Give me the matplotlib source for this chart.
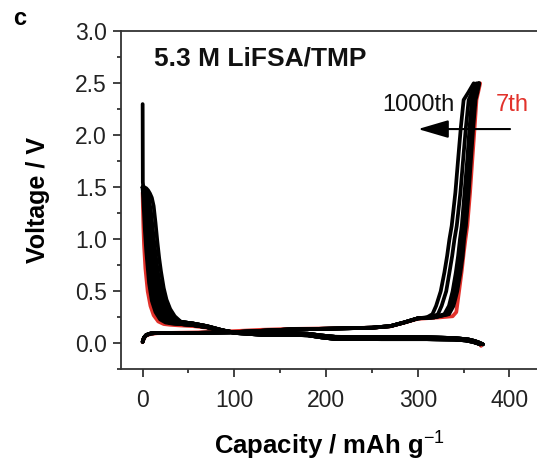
import matplotlib
matplotlib.use('Agg')
import matplotlib.pyplot as plt
from matplotlib.ticker import MultipleLocator

plt.rcParams['font.family'] = ['Liberation Sans', 'DejaVu Sans']
plt.rcParams['mathtext.fontset'] = 'custom'
plt.rcParams['mathtext.rm'] = 'Liberation Sans'
plt.rcParams['mathtext.bf'] = 'Liberation Sans:bold'

# ---- data (capacity in mAh/g, voltage in V) ----
# 7th cycle (red)
d7_x = [0, 0.3, 0.8, 1.5, 3, 5.5, 8.5, 12, 17, 23, 30, 40, 55, 70, 85, 100, 130, 160,
        180, 195, 210, 260, 310, 340, 355, 362, 367, 369]
d7_v = [1.45, 1.30, 1.12, 0.95, 0.72, 0.50, 0.36, 0.27, 0.21, 0.185, 0.178, 0.172, 0.165,
        0.15, 0.125, 0.105, 0.10, 0.097, 0.088, 0.068, 0.055, 0.052, 0.05, 0.044, 0.033,
        0.018, 0.0, -0.025]
c7_x = [0, 0.5, 1.5, 4, 9, 16, 30, 60, 95, 130, 160, 200, 250, 270, 285, 300, 325, 338,
        342, 345, 348, 350, 352, 354, 357, 359.5, 362, 364, 366, 368]
c7_v = [0.01, 0.025, 0.05, 0.075, 0.09, 0.097, 0.10, 0.105, 0.115, 0.13, 0.138, 0.143,
        0.15, 0.163, 0.198, 0.235, 0.25, 0.26, 0.30, 0.50, 0.70, 0.86, 1.0, 1.13, 1.45,
        1.77, 2.08, 2.34, 2.42, 2.5]

# black cycles: discharge heads (steep part at low capacity)
d100_x = [0, 0.5, 1.5, 2.5, 4, 7, 10, 14, 19, 25, 32]
d100_v = [1.49, 1.42, 1.25, 1.08, 0.88, 0.58, 0.41, 0.30, 0.23, 0.20, 0.19]
d200_x = [0, 1, 2, 3.5, 5.5, 8.5, 12, 16, 21, 27, 34]
d200_v = [1.50, 1.44, 1.32, 1.13, 0.90, 0.60, 0.42, 0.31, 0.24, 0.205, 0.19]
d300_x = [0, 1, 2.5, 4, 6, 8.5, 11, 14.5, 18.5, 23, 29, 36]
d300_v = [1.50, 1.46, 1.36, 1.19, 0.96, 0.70, 0.51, 0.37, 0.28, 0.23, 0.20, 0.19]
d400_x = [0, 1, 3, 4.5, 6.5, 9, 12, 15.5, 19.5, 24, 30, 37]
d400_v = [1.50, 1.47, 1.40, 1.25, 1.02, 0.78, 0.56, 0.41, 0.31, 0.25, 0.21, 0.19]
d500_x = [0, 1, 3, 5, 7, 9.5, 12.5, 15, 18.5, 22.5, 27, 33, 39]
d500_v = [1.50, 1.48, 1.43, 1.31, 1.12, 0.88, 0.65, 0.50, 0.38, 0.30, 0.25, 0.22, 0.20]
d600_x = [0, 1, 3, 5, 7, 9, 11, 14, 17.5, 21.5, 26, 32, 38]
d600_v = [1.50, 1.49, 1.45, 1.36, 1.20, 1.00, 0.82, 0.61, 0.45, 0.34, 0.27, 0.23, 0.21]
d700_x = [0, 1, 3, 5, 7, 9, 11, 13, 15.5, 18, 21.5, 26, 32, 39]
d700_v = [1.50, 1.49, 1.46, 1.39, 1.26, 1.09, 0.91, 0.74, 0.58, 0.50, 0.39, 0.30, 0.25, 0.21]
d800_x = [0, 1, 3, 5, 7, 9, 11, 13, 16, 19.5, 23.5, 28, 34, 40]
d800_v = [1.50, 1.49, 1.47, 1.42, 1.32, 1.17, 1.00, 0.84, 0.64, 0.48, 0.37, 0.29, 0.24, 0.21]
d900_x = [0, 1, 3, 5, 7, 9, 11, 13, 15, 17.5, 21.5, 25, 29, 34, 40]
d900_v = [1.50, 1.50, 1.48, 1.45, 1.38, 1.27, 1.10, 0.94, 0.79, 0.63, 0.48, 0.38, 0.31,
          0.25, 0.215]
d1000_x = [0, 0.2, 0.6, 2, 4, 6, 8, 10, 12, 14, 16, 18, 20, 23, 26, 30, 35, 40]
d1000_v = [2.30, 1.55, 1.51, 1.50, 1.49, 1.47, 1.44, 1.40, 1.32, 1.16, 0.98, 0.82, 0.69,
           0.53, 0.42, 0.33, 0.26, 0.22]

# discharge plateau tails (early / late black cycles)
tail_a_x = [42, 55, 70, 85, 100, 130, 160, 180, 195, 210, 260, 310, 340, 355, 362, 367, 371]
tail_a_v = [0.185, 0.175, 0.155, 0.125, 0.105, 0.097, 0.097, 0.092, 0.075, 0.062, 0.06,
            0.058, 0.05, 0.037, 0.022, 0.006, -0.01]
tail_b_x = [42, 55, 70, 85, 100, 130, 160, 180, 195, 210, 260, 310, 340, 352, 360, 365, 368]
tail_b_v = [0.205, 0.19, 0.165, 0.13, 0.10, 0.082, 0.082, 0.077, 0.057, 0.042, 0.04, 0.04,
            0.036, 0.028, 0.014, 0.0, -0.01]

# charge: shared low-voltage part, then per-cycle rise
cbase_x = [0, 0.5, 1.5, 4, 9, 16, 30, 60, 95, 130, 160, 200, 250, 270, 285, 300]
cbase_v = [0.015, 0.03, 0.055, 0.08, 0.095, 0.10, 0.10, 0.10, 0.105, 0.12, 0.133, 0.14,
           0.15, 0.165, 0.20, 0.24]
c100_x = [318, 334, 339, 343, 346.5, 349, 350.5, 352.5, 355.5, 358, 360.5, 363, 365, 367]
c200_x = [318, 333, 337.5, 341.5, 345, 347.5, 349, 351, 354, 356.5, 359, 362, 364, 367]
c400_x = [318, 331, 335.5, 339.5, 343, 346, 347.5, 349.5, 352.5, 355, 357.5, 360.5, 363, 366]
c600_x = [318, 329, 334, 338, 341.5, 344, 346, 348, 351, 354, 356.5, 359, 362, 366]
c800_x = [315, 322, 326, 331, 334.5, 337.5, 340, 342.5, 346.5, 349.5, 352.5, 355.5, 359, 364]
c1000_x = [310, 316, 320, 325, 329, 332, 334.5, 337, 341, 344, 347, 350, 355, 361]
rise_v = [0.25, 0.28, 0.36, 0.50, 0.68, 0.84, 1.0, 1.13, 1.45, 1.77, 2.08, 2.34, 2.41, 2.5]

# ---- figure ----
fig = plt.figure(figsize=(5.37, 4.62), dpi=100)
ax = fig.add_axes([121 / 537, 1 - 369.3 / 462, 416 / 537, 338 / 462])

lw = 2.7
red = '#e2322b'
ax.plot(d7_x, d7_v, color=red, lw=lw, solid_capstyle='round')
ax.plot(c7_x, c7_v, color=red, lw=lw, solid_capstyle='round')

heads = [(d100_x, d100_v, 'a'), (d200_x, d200_v, 'a'), (d300_x, d300_v, 'a'),
         (d400_x, d400_v, 'a'), (d500_x, d500_v, 'a'), (d600_x, d600_v, 'b'),
         (d700_x, d700_v, 'b'), (d800_x, d800_v, 'b'), (d900_x, d900_v, 'b'),
         (d1000_x, d1000_v, 'b')]
for hx, hv, t in heads:
    tx, tv = (tail_a_x, tail_a_v) if t == 'a' else (tail_b_x, tail_b_v)
    ax.plot(hx + tx, hv + tv, color='black', lw=lw, solid_capstyle='round')

for rx in [c100_x, c200_x, c400_x, c600_x, c800_x, c1000_x]:
    ax.plot(cbase_x + rx, cbase_v + rise_v, color='black', lw=lw, solid_capstyle='round')

ax.set_xlim(-23.6, 430)
ax.set_ylim(-0.25, 3.0)
ax.xaxis.set_major_locator(MultipleLocator(100))
ax.xaxis.set_minor_locator(MultipleLocator(50))
ax.yaxis.set_major_locator(MultipleLocator(0.5))
ax.yaxis.set_minor_locator(MultipleLocator(0.25))
ax.yaxis.set_major_formatter(plt.FormatStrFormatter('%.1f'))

ax.spines['right'].set_visible(False)
for s in ['left', 'bottom', 'top']:
    ax.spines[s].set_linewidth(1.3)
    ax.spines[s].set_color('#333333')
ax.tick_params(which='both', direction='out', color='#333333', width=1.3,
               top=False, right=False, labelsize=16.5, labelcolor='#222222')
ax.tick_params(which='major', length=6)
ax.tick_params(which='minor', length=3)
ax.tick_params(axis='x', which='major', pad=8)
ax.tick_params(axis='y', which='major', pad=4)

ax.set_xlabel('Capacity / mAh g$^{-1}$', fontsize=18.5, fontweight='bold', labelpad=12)
ax.set_ylabel('Voltage / V', fontsize=18, fontweight='bold', labelpad=18)

fig.text(13 / 537, 1 - 25 / 462, 'c', fontsize=17, fontweight='bold', va='baseline')
fig.text(153.7 / 537, 1 - 65 / 462, '5.3 M LiFSA/TMP', fontsize=19, fontweight='bold',
         va='baseline', color='#111111')
fig.text(382 / 537, 1 - 110.6 / 462, '1000th', fontsize=17, va='baseline', color='#111111')
fig.text(496 / 537, 1 - 110.6 / 462, '7th', fontsize=17, va='baseline', color=red)

ax.annotate('', xy=(300.3, 2.06), xytext=(400.6, 2.06),
            arrowprops=dict(arrowstyle='-|>,head_length=0.75,head_width=0.22',
                            mutation_scale=25, lw=1.5, color='black',
                            shrinkA=0, shrinkB=0))

fig.savefig('out.png', dpi=100)
